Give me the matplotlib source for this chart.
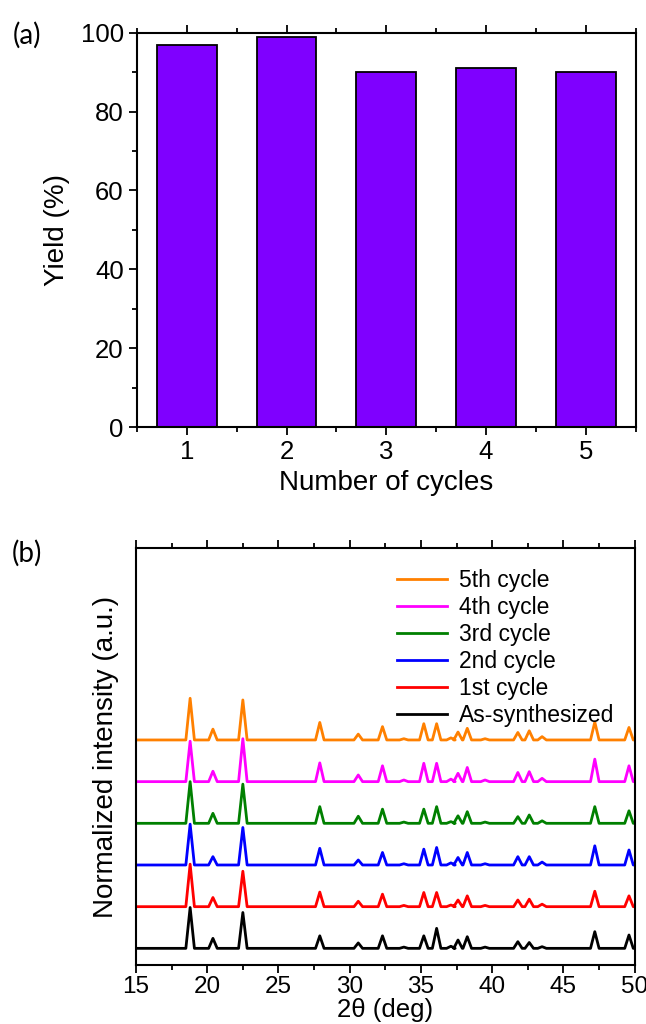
import matplotlib
matplotlib.use("Agg")
import matplotlib.pyplot as plt
from matplotlib.ticker import MultipleLocator

plt.rcParams['font.family'] = ['Liberation Sans', 'DejaVu Sans']

# (a) yield per cycle
cycles = [1, 2, 3, 4, 5]
yields = [97, 99, 90, 91, 90]

# (b) XRD patterns: shared peak positions (deg) and heights per pattern
peak_pos = [18.8, 20.4, 22.5, 27.9, 30.6, 32.3, 33.8, 35.2, 36.1, 37.1, 37.6,
            38.25, 39.5, 41.8, 42.6, 43.5, 47.2, 49.6]
heights = {
    'As-synthesized': [0.98, 0.24, 0.86, 0.30, 0.13, 0.30, 0.03, 0.30, 0.48, 0.05, 0.20,
                       0.28, 0.03, 0.16, 0.14, 0.04, 0.40, 0.32],
    '1st cycle':      [1.02, 0.22, 0.85, 0.35, 0.13, 0.30, 0.03, 0.34, 0.34, 0.04, 0.16,
                       0.26, 0.03, 0.16, 0.18, 0.06, 0.37, 0.26],
    '2nd cycle':      [0.98, 0.20, 0.90, 0.40, 0.12, 0.30, 0.03, 0.38, 0.42, 0.05, 0.18,
                       0.30, 0.03, 0.20, 0.20, 0.07, 0.46, 0.36],
    '3rd cycle':      [1.00, 0.24, 0.94, 0.40, 0.17, 0.34, 0.03, 0.34, 0.40, 0.04, 0.18,
                       0.28, 0.03, 0.16, 0.20, 0.06, 0.40, 0.30],
    '4th cycle':      [0.97, 0.25, 1.03, 0.45, 0.16, 0.38, 0.04, 0.44, 0.44, 0.06, 0.20,
                       0.34, 0.04, 0.22, 0.24, 0.08, 0.54, 0.38],
    '5th cycle':      [1.00, 0.26, 0.96, 0.42, 0.14, 0.32, 0.03, 0.39, 0.39, 0.05, 0.19,
                       0.28, 0.03, 0.18, 0.22, 0.08, 0.43, 0.30],
}
labels = ['As-synthesized', '1st cycle', '2nd cycle', '3rd cycle', '4th cycle', '5th cycle']
colors = ['black', '#ff0000', '#0000ff', '#008000', '#ff00ff', '#ff8000']
offsets = [0, 1, 2, 3, 4, 5]
half_width = 0.3

fig = plt.figure(figsize=(6.46, 10.24), dpi=100)

# ---- panel (a)
ax1 = fig.add_axes([0.212, 0.583, 0.772, 0.385])
ax1.bar(cycles, yields, width=0.6, color='#7f00ff', edgecolor='black', linewidth=1.3)
ax1.set_xlim(0.5, 5.5)
ax1.set_ylim(0, 100)
ax1.xaxis.set_major_locator(MultipleLocator(1))
ax1.xaxis.set_minor_locator(MultipleLocator(0.5))
ax1.yaxis.set_major_locator(MultipleLocator(20))
ax1.yaxis.set_minor_locator(MultipleLocator(10))
ax1.set_xlabel('Number of cycles', fontsize=20, labelpad=4)
ax1.set_ylabel('Yield (%)', fontsize=20, labelpad=8)
ax1.tick_params(which='both', direction='out', top=True, width=1.3, labelsize=18.5)
ax1.tick_params(which='major', length=6)
ax1.tick_params(which='minor', length=3.5)
for s in ax1.spines.values():
    s.set_linewidth(1.5)

# ---- panel (b)
ax2 = fig.add_axes([0.2105, 0.0576, 0.772, 0.407])
for lab, col, off in zip(labels, colors, offsets):
    xs, ys = [15.0], [off]
    for p, h in zip(peak_pos, heights[lab]):
        xs += [p - half_width, p, p + half_width]
        ys += [off, off + h, off]
    xs.append(50.0)
    ys.append(off)
    ax2.plot(xs, ys, color=col, lw=2.0, label=lab)
ax2.set_xlim(15, 50)
ax2.set_ylim(-0.4, 9.6)
ax2.xaxis.set_major_locator(MultipleLocator(5))
ax2.xaxis.set_minor_locator(MultipleLocator(2.5))
ax2.set_yticks([])
ax2.set_xlabel('2\u03b8 (deg)', fontsize=18.5, labelpad=0)
ax2.set_ylabel('Normalized intensity (a.u.)', fontsize=20, labelpad=12)
ax2.tick_params(which='both', direction='out', top=True, width=1.3, labelsize=17.5)
ax2.tick_params(axis='x', which='major', length=6, pad=2)
ax2.tick_params(which='minor', length=3.5)
for s in ax2.spines.values():
    s.set_linewidth(1.5)
h, l = ax2.get_legend_handles_labels()
ax2.legend(h[::-1], l[::-1], loc='upper right', frameon=False, fontsize=16.5,
           handlelength=2.2, handletextpad=0.5, labelspacing=0.18, borderaxespad=0.5)

fig.text(0.042, 0.966, '(a)', fontsize=20, family=['Lato', 'DejaVu Sans'], va='center', ha='center')
fig.text(0.042, 0.460, '(b)', fontsize=20, family=['Lato', 'DejaVu Sans'], va='center', ha='center')

fig.savefig('out.png', dpi=100)
